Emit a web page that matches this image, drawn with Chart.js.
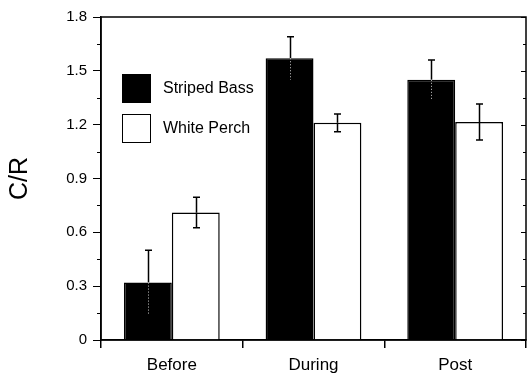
<!DOCTYPE html>
<html>
<head>
<meta charset="utf-8">
<script src="https://cdn.jsdelivr.net/npm/chart.js@4"></script>
<style>
  html, body { margin: 0; padding: 0; background: #fff; }
  #wrap { position: relative; width: 529px; height: 375px; }
  #legend { position: absolute; left: 122px; top: 74px; font-family: "Liberation Sans", Arial, sans-serif; font-size: 16px; color: #000; }
  .item { position: relative; height: 29px; margin-bottom: 11px; }
  .swatch { position: absolute; left: 0; top: 0; width: 29px; height: 29px; box-sizing: border-box; border: 1.5px solid #000; }
  .label { position: absolute; left: 41px; top: 5px; white-space: nowrap; }
</style>
</head>
<body>
<div id="wrap">
  <canvas id="plot" width="529" height="375"></canvas>
  <div id="legend"></div>
</div>
<script>
const periods = ['Before', 'During', 'Post'];
const seriesNames = ['Striped Bass', 'White Perch'];
const stripedBass = [0.32, 1.57, 1.45];
const stripedBassErr = [0.18, 0.12, 0.11];
const whitePerch = [0.71, 1.21, 1.215];
const whitePerchErr = [0.085, 0.05, 0.10];
const yTicks = [0, 0.3, 0.6, 0.9, 1.2, 1.5, 1.8];

const fontFamily = '"Liberation Sans", Arial, sans-serif';

// legend as html so it sits inside the plot box like the original
const legendBox = document.getElementById('legend');
[['#000', seriesNames[0]], ['#fff', seriesNames[1]]].forEach(function(it) {
    const row = document.createElement('div');
    row.className = 'item';
    row.innerHTML = '<div class="swatch" style="background:' + it[0] + '"></div><div class="label">' + it[1] + '</div>';
    legendBox.appendChild(row);
});

// error bars, box frame and minor ticks
const extras = {
    id: 'extras',
    afterDatasetsDraw(chart) {
        const ctx = chart.ctx;
        const y = chart.scales.y;
        const errs = [stripedBassErr, whitePerchErr];
        chart.data.datasets.forEach(function(ds, di) {
            const meta = chart.getDatasetMeta(di);
            meta.data.forEach(function(bar, i) {
                const v = ds.data[i];
                const top = y.getPixelForValue(v + errs[di][i]);
                const bot = y.getPixelForValue(v - errs[di][i]);
                const mid = y.getPixelForValue(v);
                const x = Math.round(bar.x) + 0.5;
                ctx.save();
                ctx.strokeStyle = '#000';
                ctx.lineWidth = 1.5;
                ctx.beginPath();
                ctx.moveTo(x, top); ctx.lineTo(x, mid);
                ctx.moveTo(x - 3.5, top); ctx.lineTo(x + 3.5, top);
                ctx.stroke();
                if (di === 0) {
                    ctx.strokeStyle = '#ccc';
                    ctx.lineWidth = 1;
                    ctx.setLineDash([1, 2]);
                    ctx.beginPath();
                    ctx.moveTo(x, mid); ctx.lineTo(x, bot);
                    ctx.stroke();
                } else {
                    ctx.beginPath();
                    ctx.moveTo(x, mid); ctx.lineTo(x, bot);
                    ctx.moveTo(x - 3.5, bot); ctx.lineTo(x + 3.5, bot);
                    ctx.stroke();
                }
                ctx.restore();
            });
        });
        const a = chart.chartArea;
        ctx.save();
        ctx.strokeStyle = '#000';
        ctx.lineWidth = 1.5;
        ctx.strokeRect(a.left, a.top, a.right - a.left, a.bottom - a.top);
        ctx.lineWidth = 1;
        ctx.beginPath();
        for (let k = 0; k < yTicks.length - 1; k++) {
            const py = Math.round(y.getPixelForValue((yTicks[k] + yTicks[k + 1]) / 2)) + 0.5;
            ctx.moveTo(a.left - 4, py); ctx.lineTo(a.left, py);
            ctx.moveTo(a.right, py); ctx.lineTo(a.right - 3, py);
        }
        yTicks.forEach(function(t) {
            const py = Math.round(y.getPixelForValue(t)) + 0.5;
            ctx.moveTo(a.right, py); ctx.lineTo(a.right - 5, py);
        });
        ctx.stroke();
        ctx.restore();
    }
};

new Chart(document.getElementById('plot').getContext('2d'), {
    type: 'bar',
    data: {
        labels: periods,
        datasets: [{
            label: seriesNames[0],
            data: stripedBass,
            backgroundColor: '#000',
            borderColor: '#000',
            borderWidth: 1.5
        }, {
            label: seriesNames[1],
            data: whitePerch,
            backgroundColor: '#fff',
            borderColor: '#000',
            borderWidth: 1.5
        }]
    },
    options: {
        responsive: false,
        animation: false,
        layout: { padding: { top: 17, right: 3, left: 0, bottom: 0 } },
        datasets: { bar: { categoryPercentage: 0.676, barPercentage: 1.0 } },
        plugins: { legend: { display: false }, tooltip: { enabled: false } },
        scales: {
            x: {
                afterFit(scale) { scale.height = 35; },
                grid: { drawOnChartArea: false, drawTicks: true, tickLength: 8, color: '#000', lineWidth: 1.5 },
                border: { color: '#000', width: 1.5 },
                ticks: { color: '#000', padding: 7, font: { family: fontFamily, size: 17 } }
            },
            y: {
                min: 0,
                max: 1.8,
                afterFit(scale) { scale.width = 101; },
                afterBuildTicks(scale) { scale.ticks = yTicks.map(v => ({ value: v })); },
                grid: { drawOnChartArea: false, drawTicks: true, tickLength: 8, color: '#000', lineWidth: 1 },
                border: { color: '#000', width: 1.5 },
                ticks: {
                    color: '#000',
                    padding: 6,
                    font: { family: fontFamily, size: 15 },
                    callback: v => v === 0 ? '0' : v.toFixed(1)
                },
                title: {
                    display: true,
                    text: 'C/R',
                    color: '#000',
                    padding: { top: 5, bottom: 0 },
                    font: { family: fontFamily, size: 25 }
                }
            }
        }
    },
    plugins: [extras]
});
</script>
</body>
</html>
